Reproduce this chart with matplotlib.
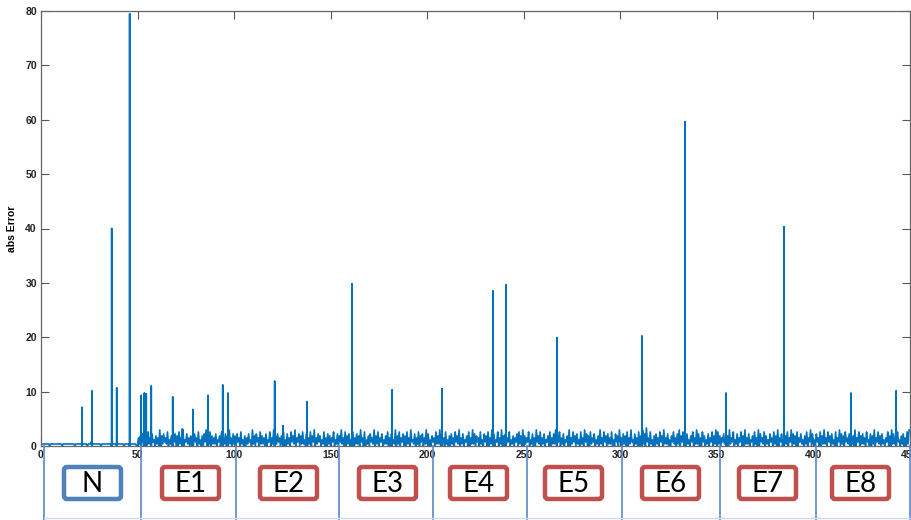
import numpy as np
import matplotlib.pyplot as plt
from matplotlib.patches import FancyBboxPatch

# ---- data ----
# noise levels as digits, value = digit * NOISE_STEP
NOISE_STEP = 0.37
# section N (x 0..50), two samples per unit
noise_n = ("1111111110111111111111011111111111101111111111110111"
           "211111111101111111111011111111111101111111111110")
# sections E1..E8 (x 50..450), one trough and one peak per unit
noise_lo = ("01020110201001210102001102100120100201011020010210"
            "10201001201020110020101201001021020110010201201001"
            "02010210010201102001021010201100210102001021010201"
            "10020110201001021010200110201020011020100120102010"
            "01201002101020011020102001201010200120101020110020"
            "20100120100210201001020110021010200102011002010201"
            "01021001201020011020100210102010020110201002101020"
            "10200110201002010210100201102001021010200110201001")
noise_hi = ("45635746354856473546574836455647356847546357465846"
            "56473546385647546374856457364758465736475846537465"
            "47365847563746584735648574635746385746574836475648"
            "63547586473564758463574865473657486374856473546758"
            "54736485746357468574635847563748657463584756473658"
            "46574836475869473564758463574685746357486475364758"
            "75463584736475846357486475364758463574865746357486"
            "36475847563748657463584756473658475634758647356478")

spike_x = [21.2, 26.4, 36.6, 39.2, 45.9, 51.9, 53.5, 54.5, 57.1, 68.2,
           73.2, 78.7, 86.5, 94.1, 96.8, 121.0, 125.3, 137.7, 161.0, 181.8,
           207.7, 234.0, 240.8, 267.2, 311.2, 333.5, 354.7, 384.8, 419.5, 442.8]
spike_y = [7.1, 10.1, 40.0, 10.7, 79.5, 9.3, 9.7, 9.6, 11.0, 9.0,
           3.1, 6.7, 9.3, 11.2, 9.7, 11.9, 3.7, 8.1, 29.8, 10.3,
           10.5, 28.5, 29.6, 19.9, 20.2, 59.6, 9.7, 40.3, 9.7, 10.1]

labels = ["N", "E1", "E2", "E3", "E4", "E5", "E6", "E7", "E8"]

# ---- build series ----
n_e = min(len(noise_lo), len(noise_hi))
y_e = np.empty(2 * n_e)
y_e[0::2] = [int(c) for c in noise_lo[:n_e]]
y_e[1::2] = [int(c) for c in noise_hi[:n_e]]
y_n = np.array([int(c) for c in noise_n], dtype=float)

x = np.concatenate([np.linspace(0, 50, len(y_n), endpoint=False),
                    np.linspace(50, 450, len(y_e), endpoint=False)])
y = np.concatenate([y_n, y_e]) * NOISE_STEP

# each spike rises straight up from the baseline at its own x
sx3 = np.repeat(spike_x, 3)
sy3 = np.column_stack([np.zeros(len(spike_y)), spike_y,
                       np.zeros(len(spike_y))]).ravel()
x = np.concatenate([x, sx3])
y = np.concatenate([y, sy3])
order = np.argsort(x, kind='stable')
x, y = x[order], y[order]

# ---- plot ----
W, H = 912, 520
fig = plt.figure(figsize=(W / 100, H / 100), dpi=100)
ax = fig.add_axes([41 / W, 1 - 446 / H, 869 / W, 435 / H])
ax.plot(x, y, color='#0072BD', lw=1.2)
ax.set_xlim(0, 450)
ax.set_ylim(0, 80)
ax.set_xticks(np.arange(0, 451, 50))
ax.set_yticks(np.arange(0, 81, 10))
ax.tick_params(direction='in', top=True, right=True, length=5.5, width=0.8,
               color='#555555', labelsize=7.5, labelcolor='#222222', pad=3)
for lab in ax.get_xticklabels() + ax.get_yticklabels():
    lab.set_fontfamily('Liberation Sans')
    lab.set_fontweight('bold')
for s in ax.spines.values():
    s.set_color('#666666')
    s.set_linewidth(0.9)
ax.set_ylabel('abs Error', fontsize=7.5, fontweight='bold',
              family='Liberation Sans', labelpad=6)

# ---- bottom panel with section boxes ----
ov = fig.add_axes([0, 0, 1, 1], zorder=5)
ov.set_xlim(0, W)
ov.set_ylim(H, 0)
ov.axis('off')
ov.patch.set_alpha(0)

seps = [44, 141, 236, 339, 433, 527, 622, 720, 816, 910]
for sx in seps:
    ov.plot([sx, sx], [446, 520], color='#5A87C8', lw=1.2)
ov.plot([44, 910], [518, 518], color='#D0DAEA', lw=1.0)

box_left = [60, 158, 256, 355, 446, 541, 638, 735, 828]
box_w, box_top, box_h = 65, 463, 40
for i, (bx, lab) in enumerate(zip(box_left, labels)):
    col = '#4F81BD' if i == 0 else '#C0504D'
    p = FancyBboxPatch((bx + 4, box_top + 4), box_w - 8, box_h - 8,
                       boxstyle='round,pad=0,rounding_size=3',
                       fc='white', ec=col, lw=3.2)
    ov.add_patch(p)
    ov.text(bx + box_w / 2, box_top + box_h / 2 + 1, lab, ha='center',
            va='center', fontsize=20, family='Lato', color='black')

fig.savefig('out.png', dpi=100)
